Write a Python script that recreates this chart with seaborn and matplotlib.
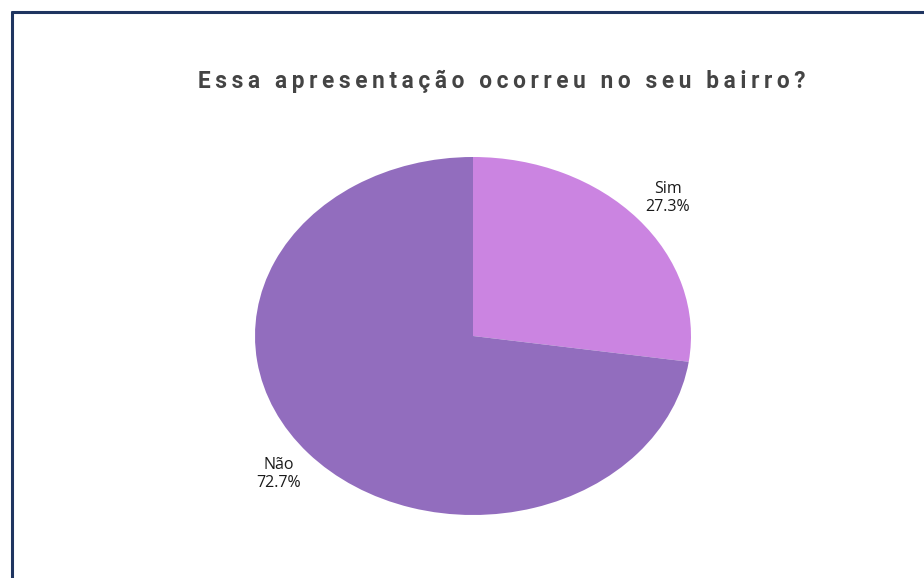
import matplotlib
matplotlib.use("Agg")
import matplotlib.pyplot as plt
import seaborn as sns
from matplotlib.lines import Line2D

sns.set_theme(style="white")
plt.rcParams["font.family"] = ["Open Sans", "DejaVu Sans"]

# Survey answers and their shares (%)
categories = ["Sim", "Não"]
shares = [27.3, 72.7]
colors = ["#CB84E1", "#926DBE"]
title = "Essa apresentação ocorreu no seu bairro?"

W, H = 924, 578
fig = plt.figure(figsize=(W / 100, H / 100), dpi=100)
fig.patch.set_facecolor("white")

# Pie area (slightly wider than tall)
left, right, top, bottom = 255, 691, 157, 515
ax = fig.add_axes([left / W, 1 - bottom / H, (right - left) / W, (bottom - top) / H])

labels = [f"{c}\n{v:.1f}%" for c, v in zip(categories, shares)]
wedges, texts = ax.pie(
    shares,
    labels=labels,
    colors=colors,
    startangle=90,
    counterclock=False,
    labeldistance=1.18,
    wedgeprops=dict(linewidth=0),
    textprops=dict(fontsize=11.5, color="#1a1a1a", linespacing=1.15),
)
for t in texts:
    t.set_horizontalalignment("center")
    t.set_verticalalignment("center")
    t.set_multialignment("center")
ax.set_xlim(-1, 1)
ax.set_ylim(-1, 1)
ax.set_aspect("auto")
ax.axis("off")

# Letter-spaced bold heading
spaced = "\u2009".join(title)
fig.text(502 / W, 1 - 81 / H, spaced, ha="center", va="center",
         fontsize=16.3, fontweight="bold", color="#444444",
         family=["Roboto", "DejaVu Sans"])

# Frame lines along the top and left edges
fig.add_artist(Line2D([11.5 / W, 1], [1 - 11.5 / H, 1 - 11.5 / H],
                      transform=fig.transFigure, color="#1F3560", linewidth=2.2))
fig.add_artist(Line2D([11.5 / W, 11.5 / W], [0, 1 - 11.5 / H],
                      transform=fig.transFigure, color="#1F3560", linewidth=2.2))

fig.savefig("out.png", dpi=100, facecolor="white")
